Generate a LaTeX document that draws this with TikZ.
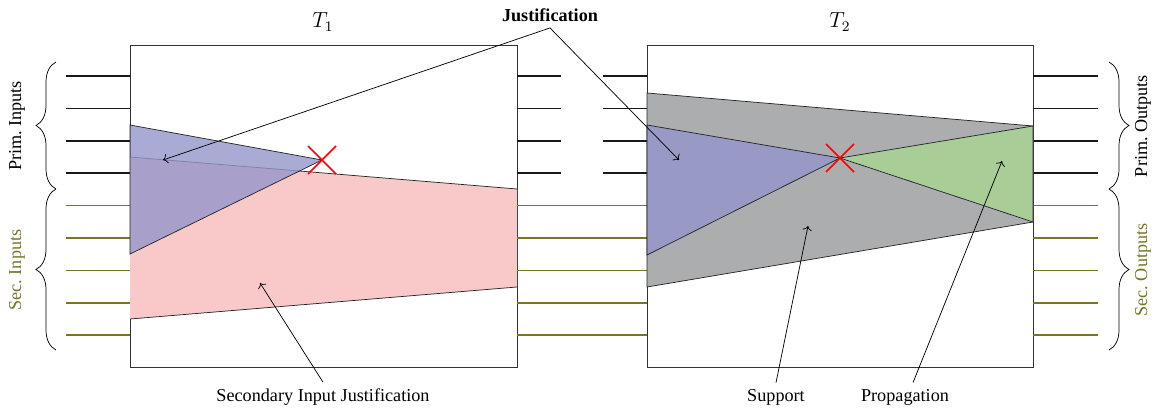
\documentclass[tikz,border=0pt]{standalone}
\usepackage{fontspec}
\setmainfont{Liberation Serif}
\usetikzlibrary{arrows.meta,positioning,decorations.pathreplacing}
\definecolor{secolive}{RGB}{118,118,36}
\definecolor{justblue}{RGB}{148,150,203}
\definecolor{secpink}{RGB}{249,201,202}
\definecolor{supgray}{RGB}{172,173,175}
\definecolor{propgreen}{RGB}{168,205,150}

\begin{document}
\begin{tikzpicture}[x=0.55pt, y=-0.55pt, >=To,
    primline/.style={line width=0.9pt, black!90},
    secline/.style={line width=0.9pt, secolive},
    area/.style={draw=black!85, thin},
    cross/.style={red, thick},
    bracedeco/.style={decorate, decoration={brace, amplitude=11pt}},
    lbl/.style={font=\normalsize}]
  \useasboundingbox (0,0) rectangle (1154,409);

  % blocks
  \draw[thin, black!80] (130,45) rectangle (517,367);
  \draw[thin, black!80] (647,45) rectangle (1033,367);
  \node (t1) at (323,22) {\large $T_1$};
  \node (t2) at (840,22) {\large $T_2$};

  % input / output lines
  \foreach \i in {0,...,3} {
    \draw[primline] (66,76+32.4*\i) -- (130,76+32.4*\i);
    \draw[primline] (517,76+32.4*\i) -- (561,76+32.4*\i);
    \draw[primline] (603,76+32.4*\i) -- (647,76+32.4*\i);
    \draw[primline] (1033,76+32.4*\i) -- (1098,76+32.4*\i);
  }
  \foreach \i in {4,...,8} {
    \draw[secline] (66,76+32.4*\i) -- (130,76+32.4*\i);
    \draw[secline] (517,76+32.4*\i) -- (647,76+32.4*\i);
    \draw[secline] (1033,76+32.4*\i) -- (1098,76+32.4*\i);
  }

  % braces
  \draw[bracedeco] (56,189) -- (56,62);
  \draw[bracedeco] (56,350) -- (56,189);
  \draw[bracedeco] (1109,62) -- (1109,189);
  \draw[bracedeco] (1109,189) -- (1109,350);
  \node[rotate=90] (primin) at (17,126) {Prim.\ Inputs};
  \node[rotate=90, text=secolive] (secin) at (17,270) {Sec.\ Inputs};
  \node[rotate=90] (primout) at (1143,126) {Prim.\ Outputs};
  \node[rotate=90, text=secolive] (secout) at (1143,270) {Sec.\ Outputs};

  % T1: secondary input justification
  \coordinate (x1) at (322,160);
  \fill[secpink] (130,157) -- (517,189) -- (517,287) -- (130,319) -- cycle;
  \draw[area] (130,157) -- (517,189);
  \draw[area] (130,319) -- (517,287);
  \filldraw[area, fill=justblue, fill opacity=0.8] (130,125) -- (x1) -- (130,254) -- cycle;
  \draw[cross] (x1) +(-14,-14) -- +(14,14);
  \draw[cross] (x1) +(-14,14) -- +(14,-14);

  % T2: support and propagation
  \coordinate (x2) at (840,158);
  \filldraw[area, fill=supgray] (647,93) -- (1033,126) -- (1033,222) -- (647,287) -- cycle;
  \filldraw[area, fill=justblue, fill opacity=0.8] (647,125) -- (x2) -- (647,255) -- cycle;
  \filldraw[area, fill=propgreen] (x2) -- (1033,126) -- (1033,222) -- cycle;
  \draw[cross] (x2) +(-14,-14) -- +(14,14);
  \draw[cross] (x2) +(-14,14) -- +(14,-14);

  % annotations
  \node[font=\bfseries] (just) at (550,15) {Justification};
  \node (secjust) at (323,397) {Secondary Input Justification};
  \node (support) at (776,397) {Support};
  \node (propag) at (905,397) {Propagation};
  \coordinate (jt1) at (163,160);
  \coordinate (jt2) at (679,160);
  \coordinate (sjt) at (260,283);
  \coordinate (supt) at (808,226);
  \coordinate (propt) at (1002,161);
  \draw[->] (just.south) -- (jt1);
  \draw[->] (just.south) -- (jt2);
  \draw[->] (secjust.north) -- (sjt);
  \draw[->] (support.north) -- (supt);
  \draw[->] (propag.north) ++(8,0) -- (propt);
\end{tikzpicture}
\end{document}
